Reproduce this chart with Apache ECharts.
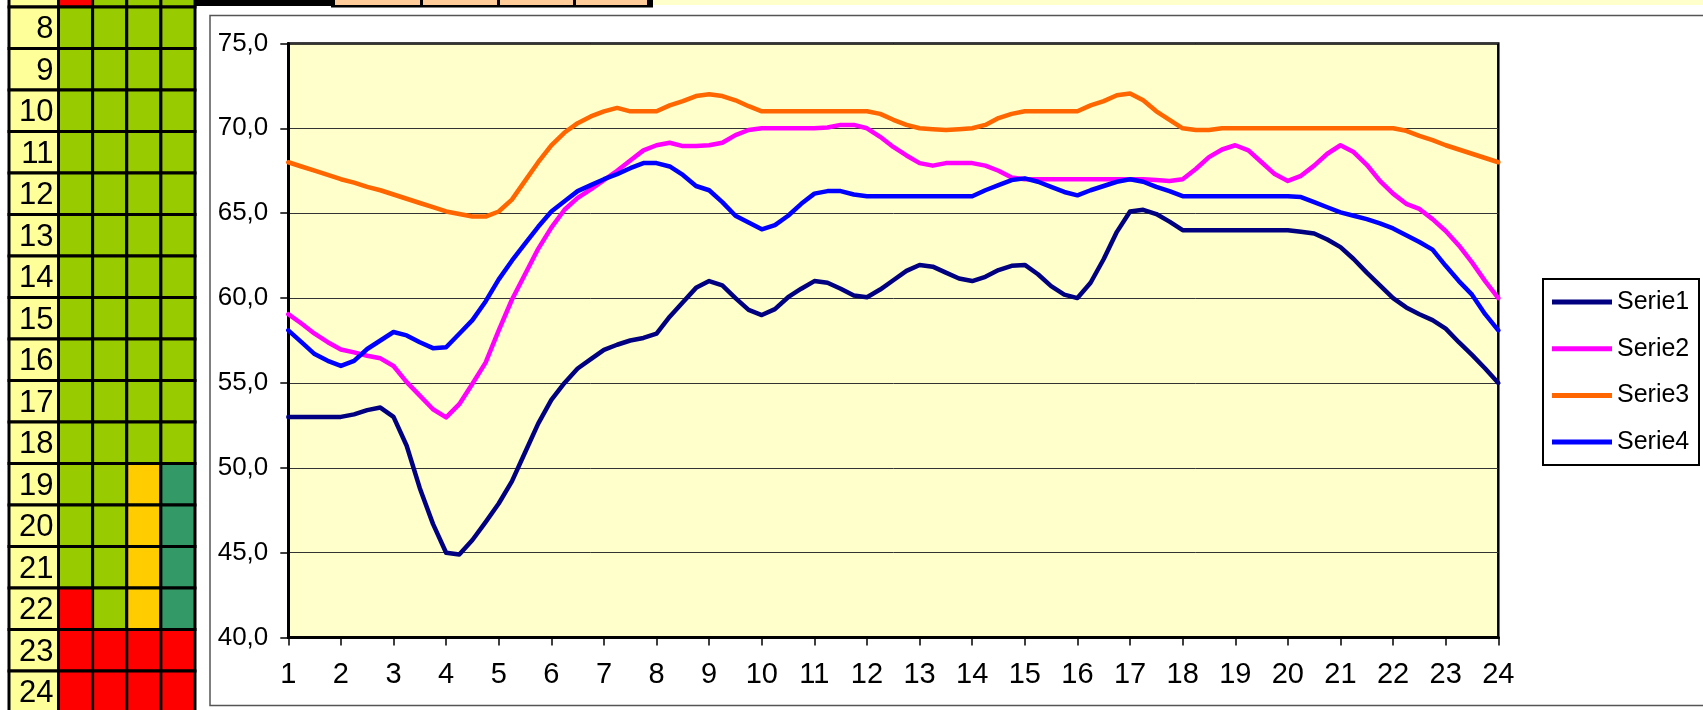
<!DOCTYPE html>
<html>
<head>
<meta charset="utf-8">
<title>Serie1 - Serie4</title>
<script src="https://cdn.jsdelivr.net/npm/echarts@6/dist/echarts.min.js"></script>
<style>
  html, body { margin: 0; padding: 0; background: #ffffff; }
  #chart { width: 1703px; height: 710px; }
</style>
</head>
<body>
<div id="chart"></div>
<script>
// quarter-hour samples, hour 1 .. 24 (one row per hour)
const STEP_HOURS = 0.25;

const serie1 = [
  53.0, 53.0, 53.0, 53.0,
  53.0, 53.15, 53.4, 53.55,
  53.0, 51.3, 48.8, 46.7,
  45.0, 44.9, 45.75, 46.8,
  47.9, 49.2, 50.9, 52.6,
  54.0, 55.0, 55.85, 56.4,
  56.95, 57.25, 57.5, 57.65,
  57.9, 58.9, 59.75, 60.6,
  61.0, 60.75, 60.0, 59.3,
  59.0, 59.35, 60.05, 60.55,
  61.0, 60.9, 60.55, 60.15,
  60.05, 60.5, 61.05, 61.6,
  61.95, 61.85, 61.5, 61.15,
  61.0, 61.25, 61.65, 61.9,
  61.95, 61.4, 60.7, 60.2,
  60.0, 60.9, 62.3, 63.9,
  65.1, 65.2, 64.95, 64.5,
  64.0, 64.0, 64.0, 64.0,
  64.0, 64.0, 64.0, 64.0,
  64.0, 63.9, 63.8, 63.45,
  63.0, 62.3, 61.5, 60.75,
  60.0, 59.45, 59.05, 58.7,
  58.2, 57.4, 56.65, 55.85,
  55.0
];

const serie2 = [
  59.05, 58.5, 57.9, 57.4,
  56.97, 56.8, 56.6, 56.45,
  56.0, 55.05, 54.25, 53.45,
  52.97, 53.75, 54.95, 56.2,
  58.1, 59.9, 61.4, 62.9,
  64.15, 65.2, 65.9, 66.4,
  66.95, 67.5, 68.1, 68.7,
  69.0, 69.15, 68.95, 68.95,
  69.0, 69.15, 69.6, 69.9,
  70.0, 70.0, 70.0, 70.0,
  70.0, 70.05, 70.2, 70.2,
  70.0, 69.5, 68.9, 68.4,
  67.95, 67.8, 67.95, 67.95,
  67.95, 67.8, 67.5, 67.1,
  67.0, 67.0, 67.0, 67.0,
  67.0, 67.0, 67.0, 67.0,
  67.0, 67.0, 66.95, 66.9,
  67.0, 67.6, 68.3, 68.75,
  69.0, 68.7, 68.0, 67.3,
  66.9, 67.2, 67.8, 68.5,
  69.0, 68.6, 67.85, 66.9,
  66.15, 65.55, 65.25, 64.65,
  63.95, 63.1, 62.1, 61.0,
  60.0
];

const serie3 = [
  68.0, 67.75, 67.5, 67.25,
  67.0, 66.8, 66.55, 66.35,
  66.1, 65.85, 65.6, 65.35,
  65.1, 64.95, 64.8, 64.8,
  65.1, 65.8, 66.9, 68.0,
  69.0, 69.75, 70.3, 70.7,
  71.0, 71.2, 71.0, 71.0,
  71.0, 71.35, 71.6, 71.9,
  72.0, 71.9, 71.65, 71.3,
  71.0, 71.0, 71.0, 71.0,
  71.0, 71.0, 71.0, 71.0,
  71.0, 70.85, 70.5, 70.2,
  70.0, 69.95, 69.9, 69.95,
  70.0, 70.2, 70.6, 70.85,
  71.0, 71.0, 71.0, 71.0,
  71.0, 71.35, 71.6, 71.95,
  72.05, 71.65, 71.0, 70.5,
  70.0, 69.9, 69.9, 70.0,
  70.0, 70.0, 70.0, 70.0,
  70.0, 70.0, 70.0, 70.0,
  70.0, 70.0, 70.0, 70.0,
  70.0, 69.85, 69.55, 69.3,
  69.0, 68.75, 68.5, 68.25,
  68.0
];

const serie4 = [
  58.1, 57.4, 56.7, 56.3,
  56.0, 56.3, 57.0, 57.5,
  58.0, 57.8, 57.4, 57.05,
  57.1, 57.9, 58.7, 59.8,
  61.1, 62.2, 63.2, 64.2,
  65.1, 65.7, 66.3, 66.65,
  67.0, 67.3, 67.65, 67.95,
  67.95, 67.75, 67.25, 66.6,
  66.35, 65.65, 64.85, 64.45,
  64.05, 64.3, 64.85, 65.55,
  66.15, 66.3, 66.3, 66.1,
  66.0, 66.0, 66.0, 66.0,
  66.0, 66.0, 66.0, 66.0,
  66.0, 66.35, 66.65, 66.95,
  67.05, 66.85, 66.55, 66.25,
  66.05, 66.35, 66.6, 66.85,
  67.0, 66.85, 66.55, 66.3,
  66.0, 66.0, 66.0, 66.0,
  66.0, 66.0, 66.0, 66.0,
  66.0, 65.95, 65.65, 65.35,
  65.05, 64.85, 64.65, 64.4,
  64.1, 63.7, 63.3, 62.85,
  61.9, 61.0, 60.2, 59.05,
  58.1
];

const seriesNames = ['Serie1', 'Serie2', 'Serie3', 'Serie4'];
const seriesColors = ['#000080', '#FF00FF', '#FF6600', '#0000FF'];
const yTicks = [40, 45, 50, 55, 60, 65, 70, 75];

// spreadsheet rows next to the chart (R red, G green, Y yellow, T teal)
const sheetRows = ['7', '8', '9', '10', '11', '12', '13', '14', '15', '16', '17', '18', '19', '20', '21', '22', '23', '24'];
const sheetCells = [
  'RGGG', 'GGGG', 'GGGG', 'GGGG', 'GGGG', 'GGGG', 'GGGG', 'GGGG', 'GGGG',
  'GGGG', 'GGGG', 'GGGG', 'GGYT', 'GGYT', 'GGYT', 'RGYT', 'RRRR', 'RRRR'
];
const CELL_COLORS = { R: '#FF0000', G: '#99CC00', Y: '#FFCC00', T: '#339966' };

const hours = serie1.map((_, i) => 1 + i * STEP_HOURS);

const chart = echarts.init(document.getElementById('chart'), null, { renderer: 'canvas' });

const ROW_H = 41.5;
const SHEET_TOP = 7 - ROW_H;

const cellData = [];
sheetCells.forEach((row, r) => {
  row.split('').forEach((code, c) => {
    cellData.push([c, r, code]);
  });
});

const lineSeries = [serie1, serie2, serie3, serie4].map((values, i) => ({
  name: seriesNames[i],
  type: 'line',
  xAxisIndex: 0,
  yAxisIndex: 0,
  symbol: 'none',
  smooth: false,
  lineStyle: { width: 4.5, color: seriesColors[i], join: 'round', cap: 'round' },
  itemStyle: { color: seriesColors[i] },
  z: 5,
  data: values.map((v, k) => [hours[k], v])
}));

const option = {
  animation: false,
  backgroundColor: '#ffffff',
  textStyle: { fontFamily: 'Liberation Sans, Arial, sans-serif' },
  grid: [
    {
      left: 288.3, top: 43.4, width: 1210, height: 594.2,
      show: true, backgroundColor: '#FFFFCC', borderColor: '#000', borderWidth: 2.5,
      outerBoundsMode: 'none', containLabel: false
    },
    { left: 9, top: SHEET_TOP, width: 49.5, height: ROW_H * sheetRows.length, outerBoundsMode: 'none' },
    { left: 58.5, top: SHEET_TOP, width: 136.5, height: ROW_H * sheetRows.length, outerBoundsMode: 'none' }
  ],
  xAxis: [
    {
      gridIndex: 0, type: 'value', min: 1, max: 24, interval: 1,
      axisLine: { show: true, onZero: false, lineStyle: { color: '#000', width: 3 } },
      axisTick: { show: true, inside: false, length: 8, lineStyle: { color: '#000', width: 1.5 } },
      axisLabel: {
        margin: 23, color: '#000', fontSize: 29,
        fontFamily: 'Liberation Sans Narrow, Liberation Sans, Arial, sans-serif'
      },
      splitLine: { show: false }
    },
    { gridIndex: 1, type: 'category', data: ['H'], show: false },
    { gridIndex: 2, type: 'category', data: ['A', 'B', 'C', 'D'], show: false }
  ],
  yAxis: [
    {
      gridIndex: 0, type: 'value', min: yTicks[0], max: yTicks[yTicks.length - 1], interval: 5,
      axisLine: { show: true, lineStyle: { color: '#000', width: 3 } },
      axisTick: { show: true, length: 8, lineStyle: { color: '#000', width: 1.5 } },
      axisLabel: {
        margin: 20, color: '#000', fontSize: 26,
        formatter: (v) => v.toFixed(1).replace('.', ',')
      },
      splitLine: { show: true, lineStyle: { color: '#333', width: 1 } }
    },
    { gridIndex: 1, type: 'category', data: sheetRows, inverse: true, show: false },
    { gridIndex: 2, type: 'category', data: sheetRows, inverse: true, show: false }
  ],
  legend: {
    orient: 'vertical',
    left: 1552,
    top: 289.5,
    padding: 0,
    icon: 'rect',
    itemWidth: 60,
    itemHeight: 5,
    itemGap: 21.7,
    itemTextGap: 6,
    textStyle: { color: '#000', fontSize: 25, lineHeight: 25 },
    data: seriesNames
  },
  graphic: [
    // chart frame
    { type: 'rect', z: -10, shape: { x: 210, y: 15.5, width: 1600, height: 690 },
      style: { fill: '#fff', stroke: '#555', lineWidth: 1.5 } },
    // top strip of the sheet
    { type: 'rect', shape: { x: 192, y: 0, width: 139, height: 6 }, style: { fill: '#000' } },
    { type: 'rect', shape: { x: 331, y: 0, width: 322, height: 7.5 }, style: { fill: '#000' } },
    { type: 'rect', shape: { x: 335, y: 0, width: 85, height: 5 }, style: { fill: '#FFCC99' } },
    { type: 'rect', shape: { x: 423, y: 0, width: 74, height: 5 }, style: { fill: '#FFCC99' } },
    { type: 'rect', shape: { x: 500, y: 0, width: 73, height: 5 }, style: { fill: '#FFCC99' } },
    { type: 'rect', shape: { x: 576, y: 0, width: 71, height: 5 }, style: { fill: '#FFCC99' } },
    { type: 'rect', shape: { x: 653, y: 0, width: 1050, height: 5 }, style: { fill: '#FFFFCC' } },
    // legend box
    { type: 'rect', z: 1, shape: { x: 1543, y: 279, width: 156, height: 186 },
      style: { fill: '#fff', stroke: '#000', lineWidth: 2 } }
  ],
  series: [
    ...lineSeries,
    {
      type: 'custom',
      xAxisIndex: 1,
      yAxisIndex: 1,
      silent: true,
      data: sheetRows.map((label, r) => [0, r, label]),
      renderItem: (params, api) => {
        const c = api.coord([api.value(0), api.value(1)]);
        const size = api.size([1, 1]);
        const x = c[0] - size[0] / 2;
        const y = c[1] - size[1] / 2;
        return {
          type: 'group',
          children: [
            { type: 'rect', shape: { x, y, width: size[0], height: size[1] },
              style: { fill: '#FFFF99', stroke: '#000', lineWidth: 3 } },
            { type: 'text', style: {
                x: x + size[0] - 5, y: c[1] + 2, text: sheetRows[params.dataIndex],
                align: 'right', verticalAlign: 'middle', fill: '#000',
                font: '31px "Liberation Sans", Arial, sans-serif' } }
          ]
        };
      }
    },
    {
      type: 'custom',
      xAxisIndex: 2,
      yAxisIndex: 2,
      silent: true,
      data: cellData,
      renderItem: (params, api) => {
        const c = api.coord([api.value(0), api.value(1)]);
        const size = api.size([1, 1]);
        const code = cellData[params.dataIndex][2];
        return {
          type: 'rect',
          shape: { x: c[0] - size[0] / 2, y: c[1] - size[1] / 2, width: size[0], height: size[1] },
          style: { fill: CELL_COLORS[code], stroke: '#000', lineWidth: 3 }
        };
      }
    }
  ]
};

chart.setOption(option);
</script>
</body>
</html>
